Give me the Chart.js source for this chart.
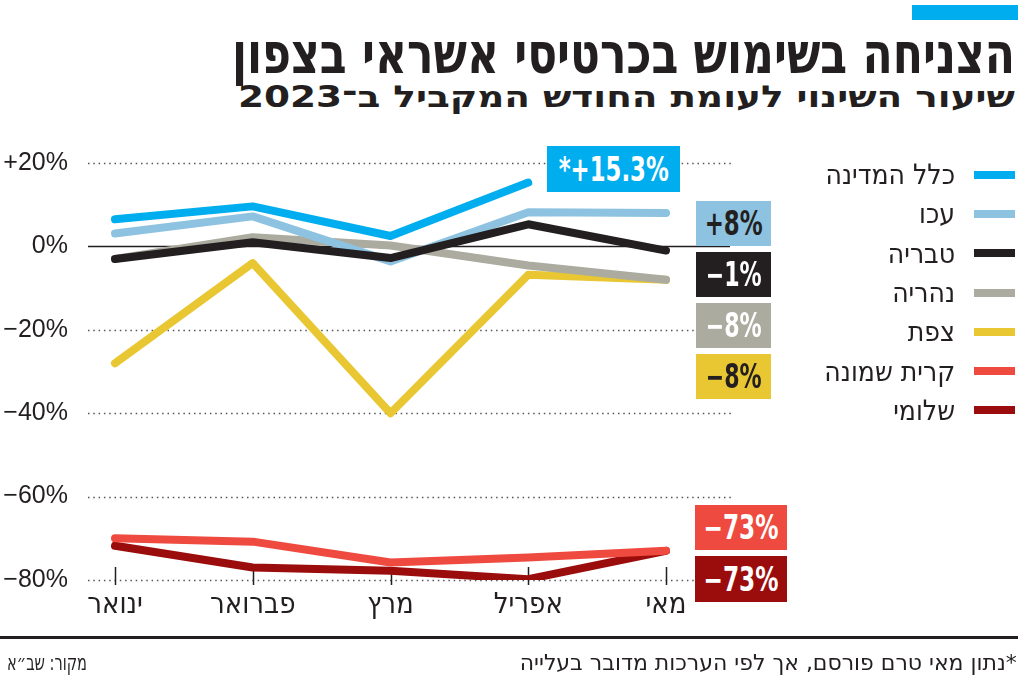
<!DOCTYPE html>
<html lang="he">
<head>
<meta charset="utf-8">
<script src="https://cdn.jsdelivr.net/npm/chart.js@4.4.1/dist/chart.umd.min.js"></script>
<style>
  html, body { margin: 0; padding: 0; background: #fff; }
  body { width: 1024px; height: 686px; position: relative; overflow: hidden;
         font-family: "Liberation Sans Narrow", "DejaVu Sans Condensed", "Liberation Sans", sans-serif; color: #231f20; }
  #chartWrap { position: absolute; left: 0; top: 0; width: 1024px; height: 686px; }
  .abs { position: absolute; }
  .topbar { left: 912px; top: 5px; width: 106px; height: 15px; background: #00aeef; }
  .title { right: 9px; top: 22px; font-size: 56px; font-weight: bold; direction: rtl; white-space: nowrap; line-height: 64px; transform-origin: right center; }
  .subtitle { right: 9px; top: 80px; font-size: 30px; font-weight: bold; direction: rtl; white-space: nowrap; line-height: 34px; transform-origin: right center; }
  .legend { right: 9px; top: 155px; direction: rtl; }
  .legend .row { height: 39.3px; display: flex; align-items: center; font-size: 28px; white-space: nowrap; }
  .legend .sw { width: 41px; height: 8px; margin-left: 19px; }
  .box { display: flex; align-items: center; justify-content: center; font-weight: bold; font-size: 33px; white-space: nowrap; }
  .box span { display: inline-block; transform-origin: center center; direction: ltr; unicode-bidi: bidi-override; }
  .footline { left: 0; top: 636px; width: 1018px; height: 3px; background: #231f20; }
  .note { right: 7px; top: 650px; font-size: 22px; direction: rtl; white-space: nowrap; transform-origin: right center; }
  .source { left: 7px; top: 650px; font-size: 22px; direction: rtl; white-space: nowrap; transform-origin: left center; }
</style>
</head>
<body>
<div class="abs topbar"></div>
<div class="abs title" id="title">הצניחה בשימוש בכרטיסי אשראי בצפון</div>
<div class="abs subtitle" id="subtitle">שיעור השינוי לעומת החודש המקביל ב־2023</div>

<div id="chartWrap"><canvas id="chart" width="1024" height="686"></canvas></div>

<div class="abs legend" id="legend"></div>
<div id="boxes"></div>

<div class="abs footline"></div>
<div class="abs note" id="note">*נתון מאי טרם פורסם, אך לפי הערכות מדובר בעלייה</div>
<div class="abs source" id="source">מקור: שב״א</div>

<script>
document.addEventListener('DOMContentLoaded', () => {
    const months = ['ינואר', 'פברואר', 'מרץ', 'אפריל', 'מאי'];
    const yTicks = [20, 0, -20, -40, -60, -80];

    // series values (% change vs same month in 2023)
    const country = [6.5, 9.6, 2.5, 15.3, null];
    const akko = [3.1, 7.2, -3.6, 8.2, 8];
    const tiberias = [-3, 1, -2.8, 5.3, -1];
    const nahariya = [-3, 2.2, 0.2, -4.6, -8];
    const safed = [-28, -4, -40, -6.8, -8];
    const kiryatShmona = [-70, -70.8, -75.8, -74.6, -73];
    const shlomi = [-71.8, -77, -77.8, -79.8, -73];

    const seriesNames = ['כלל המדינה', 'עכו', 'טבריה', 'נהריה', 'צפת', 'קרית שמונה', 'שלומי'];
    const seriesData = [country, akko, tiberias, nahariya, safed, kiryatShmona, shlomi];
    const colors = ['#00aeef', '#8dc3e0', '#231f20', '#ababa0', '#e8c733', '#ee4a3f', '#9b0d0d'];
    const drawOrder = [0, 2, 1, 3, 4, 5, 6]; // lower = on top

    // end labels
    const endLabels = ['*+15.3%', '+8%', '−1%', '−8%', '−8%', '−73%', '−73%'];
    const endLabelText = ['#fff', '#231f20', '#fff', '#fff', '#231f20', '#fff', '#fff'];
    const endLabelBoxes = [
        [547, 146, 133, 46], [696, 201, 75, 45], [696, 252, 75, 45], [696, 303, 75, 45],
        [696, 354, 75, 45], [695, 505, 92, 45], [695, 556, 92, 46]
    ];
    const endLabelWidths = [110, 58, 56, 56, 56, 75, 75];

    const fontFam = '"Liberation Sans Narrow", "DejaVu Sans Condensed", "Liberation Sans", sans-serif';

    // squeeze text to the width it has in the original
    function fit(el, target) {
        const w = el.getBoundingClientRect().width;
        if (w > 0) el.style.transform = `scaleX(${target / w})`;
    }

    // legend
    const legend = document.getElementById('legend');
    seriesNames.forEach((name, i) => {
        const row = document.createElement('div');
        row.className = 'row';
        row.innerHTML = `<span class="sw" style="background:${colors[i]}"></span><span>${name}</span>`;
        legend.appendChild(row);
    });

    // value boxes
    const boxes = document.getElementById('boxes');
    endLabels.forEach((txt, i) => {
        const b = endLabelBoxes[i];
        const el = document.createElement('div');
        el.className = 'abs box';
        el.style.cssText = `left:${b[0]}px;top:${b[1]}px;width:${b[2]}px;height:${b[3]}px;background:${colors[i]};color:${endLabelText[i]}`;
        const sp = document.createElement('span');
        sp.textContent = txt;
        el.appendChild(sp);
        boxes.appendChild(el);
        fit(sp, endLabelWidths[i]);
    });

    fit(document.getElementById('title'), 783);
    fit(document.getElementById('subtitle'), 777);
    fit(document.getElementById('note'), 497);
    fit(document.getElementById('source'), 80);

    // grid lines + month ticks
    const gridPlugin = {
        id: 'gridPlugin',
        beforeDatasetsDraw(chart) {
            const ctx = chart.ctx;
            const y = chart.scales.y;
            const x = chart.scales.x;
            const area = chart.chartArea;
            ctx.save();
            yTicks.forEach(v => {
                const py = Math.round(y.getPixelForValue(v)) + 0.5;
                ctx.beginPath();
                if (v === 0) {
                    ctx.setLineDash([]);
                    ctx.lineWidth = 1.5;
                    ctx.strokeStyle = '#231f20';
                    ctx.moveTo(area.left, py);
                    ctx.lineTo(area.right - 2, py);
                } else {
                    ctx.setLineDash([1.5, 3.8]);
                    ctx.lineWidth = 1.5;
                    ctx.strokeStyle = '#555';
                    ctx.moveTo(area.left, py);
                    ctx.lineTo(area.right, py);
                }
                ctx.stroke();
            });
            ctx.setLineDash([]);
            ctx.lineWidth = 1.5;
            ctx.strokeStyle = '#231f20';
            months.forEach((m, i) => {
                const px = Math.round(x.getPixelForValue(i)) + 0.5;
                ctx.beginPath();
                ctx.moveTo(px, area.bottom - 13);
                ctx.lineTo(px, area.bottom + 5);
                ctx.stroke();
            });
            ctx.restore();
        }
    };

    const datasets = seriesData.map((vals, i) => ({
        label: seriesNames[i],
        data: vals.map((v, j) => ({ x: j, y: v })),
        borderColor: colors[i],
        backgroundColor: colors[i],
        borderWidth: 8,
        borderCapStyle: 'round',
        borderJoinStyle: 'round',
        pointRadius: 0,
        tension: 0,
        order: drawOrder[i],
        spanGaps: false
    }));

    new Chart(document.getElementById('chart'), {
        type: 'line',
        data: { datasets },
        options: {
            responsive: false,
            animation: false,
            layout: { padding: { left: 0, right: 292, top: 163, bottom: 46 } },
            plugins: { legend: { display: false }, tooltip: { enabled: false } },
            scales: {
                x: {
                    type: 'linear',
                    min: -0.196,
                    max: 4.479,
                    afterBuildTicks: scale => { scale.ticks = months.map((m, i) => ({ value: i })); },
                    afterFit: scale => { scale.height = 60; },
                    grid: { display: false, drawTicks: false },
                    border: { display: false },
                    ticks: {
                        callback: v => months[v],
                        font: { family: fontFam, size: 29 },
                        color: '#231f20',
                        padding: 8,
                        maxRotation: 0,
                        autoSkip: false
                    }
                },
                y: {
                    min: -80,
                    max: 20,
                    afterBuildTicks: scale => { scale.ticks = yTicks.map(v => ({ value: v })); },
                    afterFit: scale => { scale.width = 88; },
                    grid: { display: false, drawTicks: false },
                    border: { display: false },
                    ticks: {
                        callback: v => (v > 0 ? '+' : v < 0 ? '−' : '') + Math.abs(v) + '%',
                        font: { family: '"Liberation Sans", "DejaVu Sans", sans-serif', size: 25 },
                        color: '#231f20',
                        padding: 20
                    }
                }
            }
        },
        plugins: [gridPlugin]
    });
});
</script>
</body>
</html>
